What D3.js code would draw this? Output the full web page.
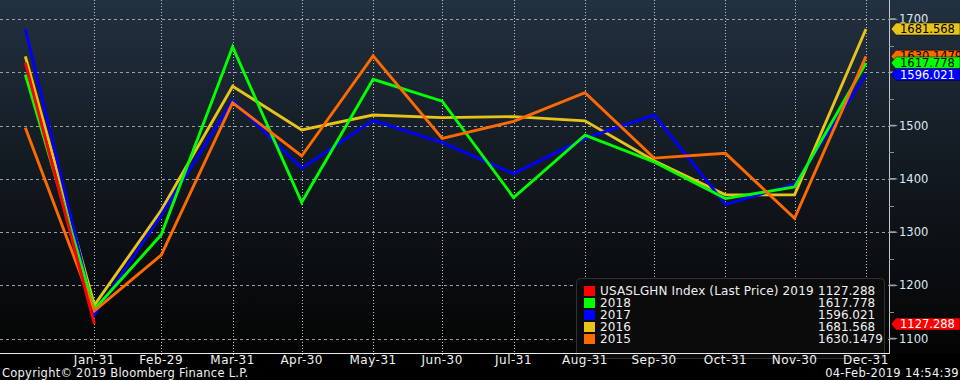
<!DOCTYPE html>
<html><head><meta charset="utf-8">
<script src="https://cdn.jsdelivr.net/npm/d3@7"></script>
<style>
html,body{margin:0;padding:0;background:#000;}
svg{display:block;font-family:"DejaVu Sans",sans-serif;}
</style></head>
<body><svg id="c" width="960" height="380"></svg>
<script>
// ---- data ----
const dates = ["2016-01-01","2016-01-31","2016-02-29","2016-03-31","2016-04-30","2016-05-31","2016-06-30","2016-07-31","2016-08-31","2016-09-30","2016-10-31","2016-11-30","2016-12-31"];
const tickDates = ["2016-01-31","2016-02-29","2016-03-31","2016-04-30","2016-05-31","2016-06-30","2016-07-31","2016-08-31","2016-09-30","2016-10-31","2016-11-30","2016-12-31"];
const tickLabels = ["Jan-31","Feb-29","Mar-31","Apr-30","May-31","Jun-30","Jul-31","Aug-31","Sep-30","Oct-31","Nov-30","Dec-31"];
const seriesNames = ["USASLGHN Index (Last Price) 2019","2018","2017","2016","2015"];
const seriesLast = ["1127.288","1617.778","1596.021","1681.568","1630.1479"];
const seriesColors = ["#ff0000","#00ff00","#0000ff","#e6c41a","#ff6a00"];
const v2019 = [1617.778,1127.288];
const v2018 = [1596.021,1155,1295,1648,1356,1587,1546,1365,1482,1432,1363,1385,1617.778];
const v2017 = [1681.568,1145,1332,1547,1420,1510,1468,1410,1476,1520,1352,1390,1596.021];
const v2016 = [1630.1479,1163,1341,1574,1492,1520,1515,1517,1509,1434,1370,1370,1681.568];
const v2015 = [1496,1152,1257,1543,1443,1631,1476,1508,1562,1439,1448,1326,1630.1479];
const yTicks = [1100,1200,1300,1400,1500,1600,1700];
const yMinor = [1150,1250,1350,1450,1550,1650];
const footLeft = "Copyright\u00A9 2019 Bloomberg Finance L.P.";
const footRight = "04-Feb-2019 14:54:39";

// ---- layout ----
const W=960,H=380,PR=889,PB=353;
const svg=d3.select("#c");
const P=d3.utcParse("%Y-%m-%d");
const x=d3.scaleUtc().domain([P("2015-12-21"),P("2017-01-10")]).range([0,PR]);
const y=d3.scaleLinear().domain([1073,1736]).range([PB,0]);

const defs=svg.append("defs");
const g=defs.append("linearGradient").attr("id","bg").attr("x1",0).attr("y1",0).attr("x2",0).attr("y2",1);
g.append("stop").attr("offset","0%").attr("stop-color","#223140");
g.append("stop").attr("offset","55%").attr("stop-color","#10161c");
g.append("stop").attr("offset","100%").attr("stop-color","#040404");

svg.append("rect").attr("width",W).attr("height",H).attr("fill","#000");
svg.append("rect").attr("width",W).attr("height",PB).attr("fill","url(#bg)");

// grid
svg.append("g").selectAll("line").data(yTicks).join("line")
  .attr("x1",0).attr("x2",PR).attr("y1",d=>Math.round(y(d))+0.5).attr("y2",d=>Math.round(y(d))+0.5)
  .attr("stroke","#9aa0a6").attr("stroke-dasharray","3,3").attr("stroke-width",1);
svg.append("g").selectAll("line").data(tickDates).join("line")
  .attr("x1",d=>Math.round(x(P(d)))+0.5).attr("x2",d=>Math.round(x(P(d)))+0.5).attr("y1",0).attr("y2",PB+3)
  .attr("stroke","#c0c4c8").attr("stroke-dasharray","1,2").attr("stroke-width",1);

// legend box
const lg=svg.append("g");
lg.append("rect").attr("x",576.5).attr("y",278.5).attr("width",308).attr("height",80).attr("rx",4)
  .attr("fill","#0b0b0b").attr("stroke","#2e3236");
seriesNames.forEach((n,i)=>{
  const yy=291+i*12;
  lg.append("rect").attr("x",584).attr("y",yy-5).attr("width",11).attr("height",10).attr("fill",seriesColors[i]);
  lg.append("text").attr("x",600).attr("y",yy+4).attr("fill","#f0f0f0").attr("font-size",12).attr("letter-spacing",0.15).text(n);
  lg.append("text").attr("x",818).attr("y",yy+4).attr("fill","#f0f0f0").attr("font-size",12).text(seriesLast[i]);
});

// lines
const line=d3.line().x(d=>x(P(d[0]))).y(d=>y(d[1]));
const all=[v2019,v2018,v2017,v2016,v2015];
const order=[3,2,1,4,0];
order.forEach(i=>{
  const vals=all[i];
  svg.append("path").datum(vals.map((v,k)=>[dates[k],v]))
    .attr("d",line).attr("fill","none").attr("stroke",seriesColors[i])
    .attr("stroke-width",2.9).attr("stroke-linejoin","miter");
});

// axes lines
svg.append("line").attr("x1",0).attr("x2",PR+1).attr("y1",PB+0.5).attr("y2",PB+0.5).attr("stroke","#e8e8e8");
svg.append("line").attr("x1",PR+0.5).attr("x2",PR+0.5).attr("y1",0).attr("y2",PB+1).attr("stroke","#c8c8c8");

// x tick labels
svg.append("g").selectAll("text").data(tickDates).join("text")
  .attr("x",d=>x(P(d))).attr("y",364).attr("text-anchor","middle")
  .attr("fill","#f2f2f2").attr("font-size",12).attr("letter-spacing",0.5)
  .text((d,i)=>tickLabels[i]);

// y ticks
const ya=svg.append("g");
ya.selectAll("path.maj").data(yTicks).join("path")
  .attr("d",d=>{const yy=y(d);return `M${PR},${yy-0.8}L${PR+6},${yy-0.8}L${PR+9},${yy}L${PR+6},${yy+0.8}L${PR},${yy+0.8}Z`;})
  .attr("fill","#9aa0a6");
ya.selectAll("line.min").data(yMinor).join("line")
  .attr("x1",PR).attr("x2",PR+5).attr("y1",d=>Math.round(y(d))+0.5).attr("y2",d=>Math.round(y(d))+0.5)
  .attr("stroke","#8a9096");
ya.selectAll("text").data(yTicks).join("text")
  .attr("x",899).attr("y",d=>y(d)+4).attr("fill","#dfe8f2").attr("font-size",11.5).text(d=>d);

// value tags
const tagOrder=[4,3,1,2,0];
const tagText={0:"#ffffff",1:"#000000",2:"#ffffff",3:"#000000",4:"#000000"};
tagOrder.forEach(i=>{
  const v=+seriesLast[i];
  const c=y(v);
  const tg=svg.append("g");
  tg.append("path").attr("d",`M${PR+2},${c}L${PR+7},${c-6}L${W},${c-6}L${W},${c+6}L${PR+7},${c+6}Z`)
    .attr("fill",seriesColors[i]).attr("stroke","#000").attr("stroke-width",0.5);
  tg.append("text").attr("x",900).attr("y",c+4).attr("fill",tagText[i]).attr("font-size",11.5).text(seriesLast[i]);
});

// footer
svg.append("text").attr("x",2).attr("y",377).attr("fill","#f2f2f2").attr("font-size",11.5).attr("letter-spacing",0.25).text(footLeft);
svg.append("text").attr("x",959).attr("y",377).attr("text-anchor","end").attr("fill","#f2f2f2").attr("font-size",11.5).attr("letter-spacing",0.3).text(footRight);
</script></body></html>
